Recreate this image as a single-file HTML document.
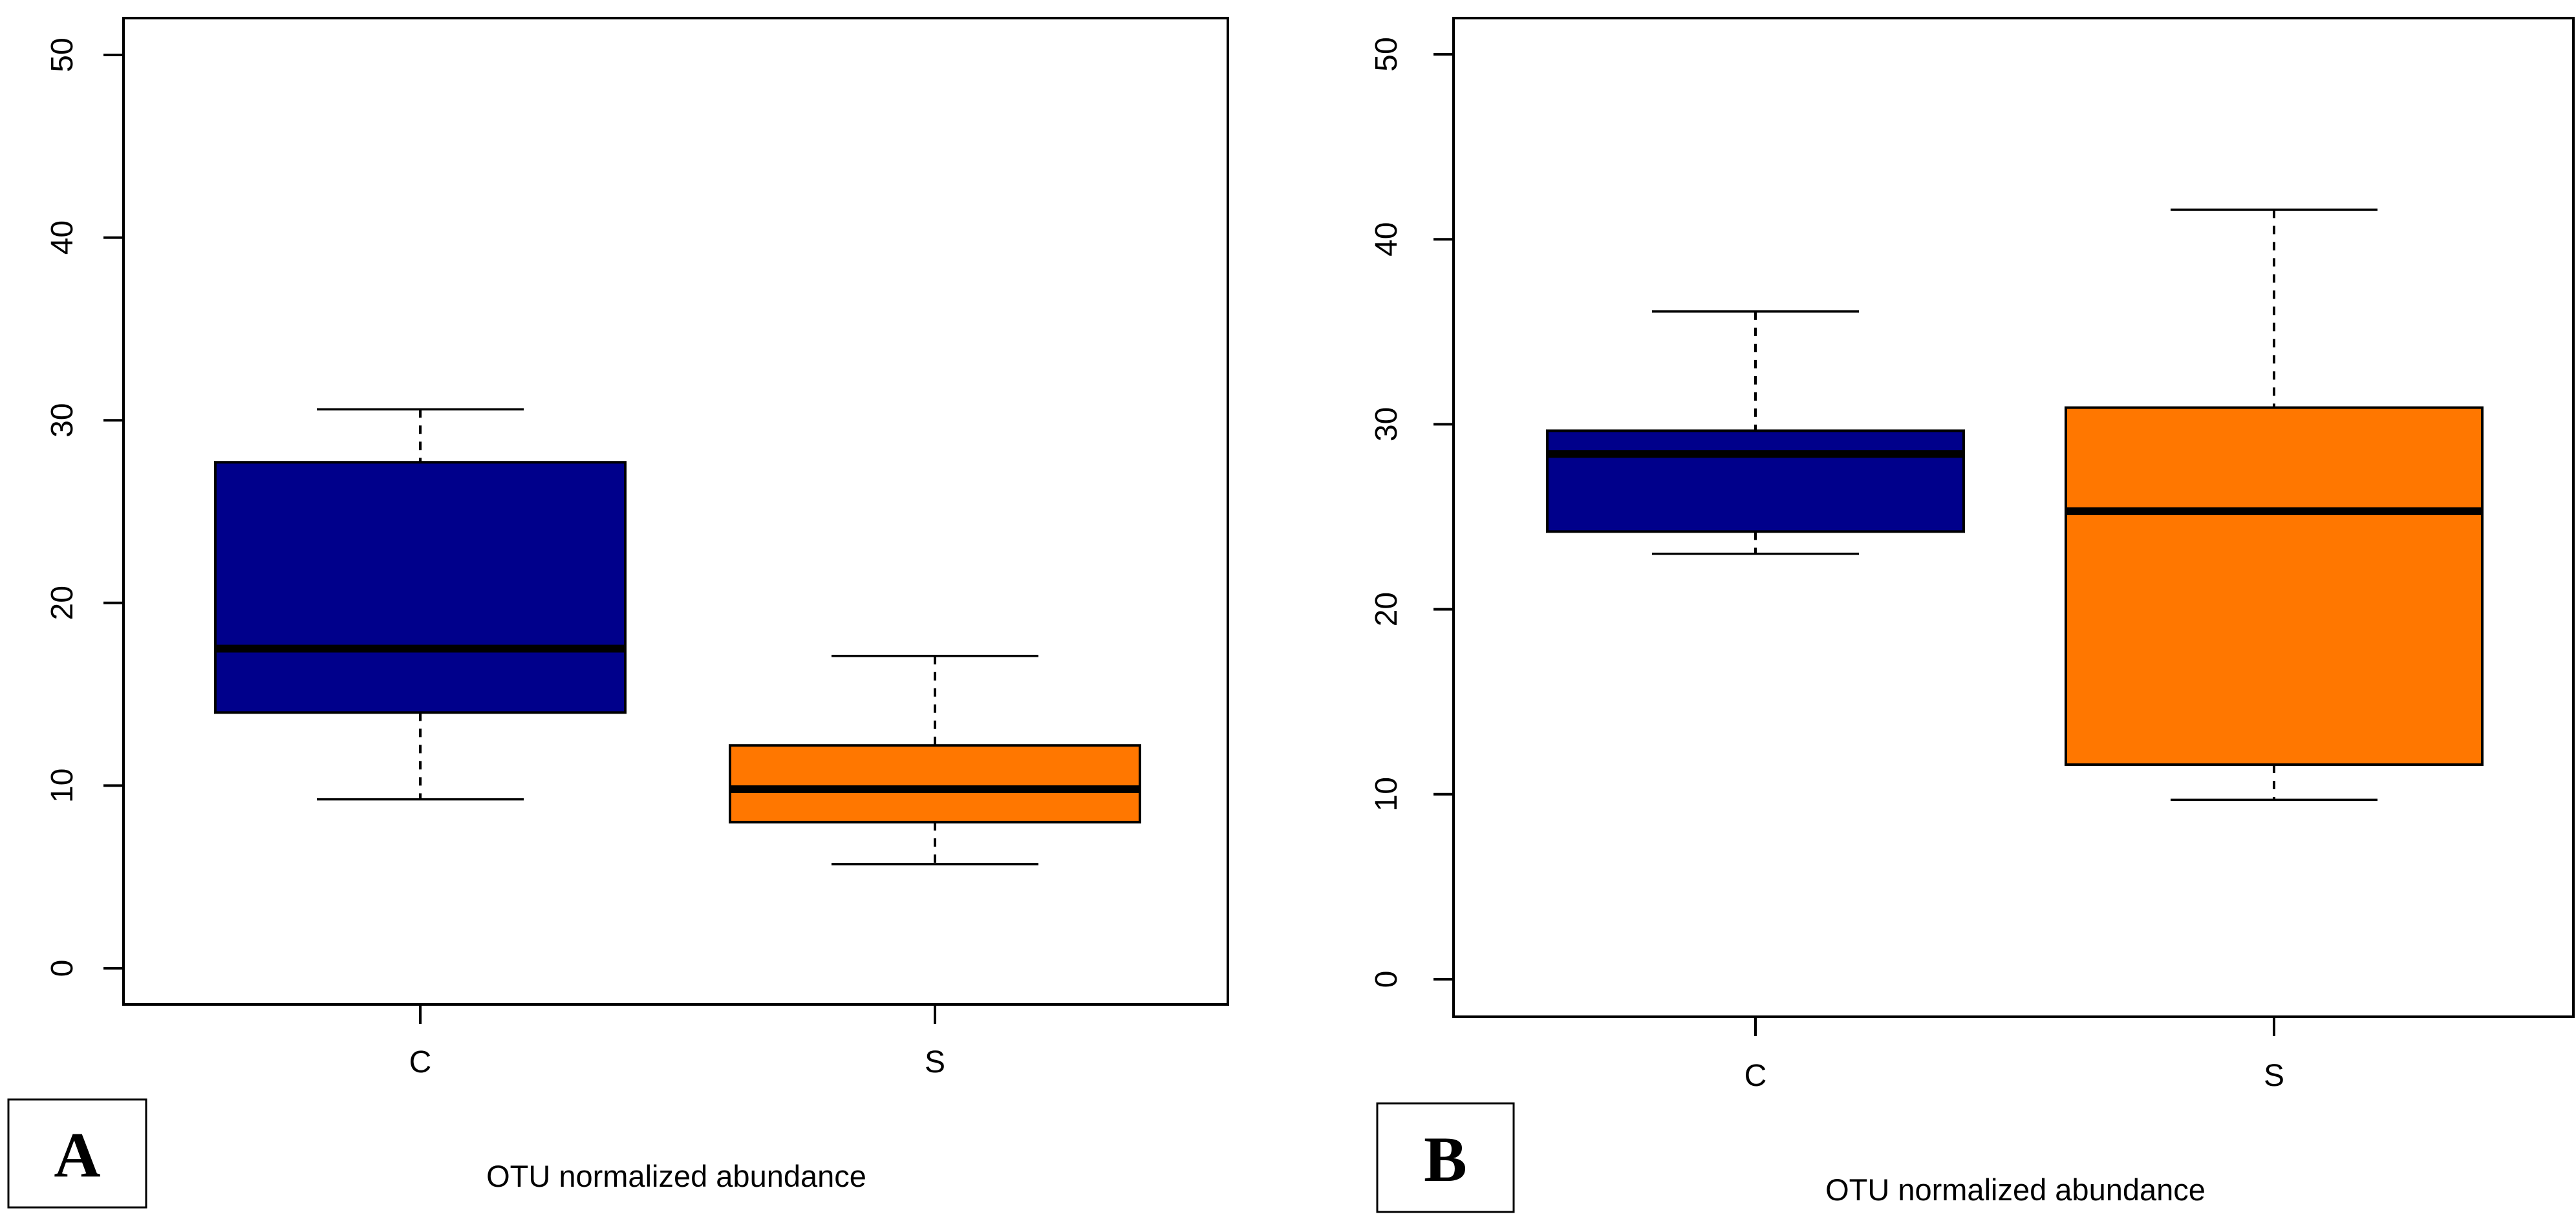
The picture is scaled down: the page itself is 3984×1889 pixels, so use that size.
<!DOCTYPE html>
<html><head><meta charset="utf-8"><style>
html,body{margin:0;padding:0;background:#fff;}
svg{display:block;}
text{font-family:"Liberation Sans",sans-serif;fill:#000;}
</style></head><body>
<svg id="fig" width="3984" height="1889" viewBox="0 0 3984 1889" xmlns="http://www.w3.org/2000/svg">
<rect width="3984" height="1889" fill="#fff"/>
</svg>
<script>
const categories = ["C", "S"];
const yTicks = [0, 10, 20, 30, 40, 50];
const panelA_whiskerLow = [9.25, 5.7];
const panelA_q1 = [14.0, 8.0];
const panelA_median = [17.5, 9.8];
const panelA_q3 = [27.7, 12.2];
const panelA_whiskerHigh = [30.6, 17.1];
const panelB_whiskerLow = [23.0, 9.7];
const panelB_q1 = [24.2, 11.6];
const panelB_median = [28.4, 25.3];
const panelB_q3 = [29.65, 30.9];
const panelB_whiskerHigh = [36.1, 41.6];
const fills = ["#00008B", "#FF7700"];

const NS = "http://www.w3.org/2000/svg";
const svg = document.getElementById("fig");
function el(tag, attrs, parent) {
  const e = document.createElementNS(NS, tag);
  for (const k in attrs) e.setAttribute(k, attrs[k]);
  (parent || svg).appendChild(e);
  return e;
}

function panel(cfg, lo, q1, med, q3, hi) {
  const g = el("g", {});
  
  
  const y = v => cfg.y0 + (cfg.y50 - cfg.y0) * v / 50;
  const x = i => cfg.cx[i];
  categories.forEach((c, i) => {
    const bg = el("g", {}, g);
    
    
    el("line", {x1:x(i), x2:x(i), y1:y(hi[i]), y2:y(q3[i]), stroke:"#000", "stroke-width":4, "stroke-dasharray":"13 12"}, bg);
    el("line", {x1:x(i), x2:x(i), y1:y(q1[i]), y2:y(lo[i]), stroke:"#000", "stroke-width":4, "stroke-dasharray":"13 12"}, bg);
    el("line", {x1:x(i)-cfg.cap, x2:x(i)+cfg.cap, y1:y(hi[i]), y2:y(hi[i]), stroke:"#000", "stroke-width":3.5}, bg);
    el("line", {x1:x(i)-cfg.cap, x2:x(i)+cfg.cap, y1:y(lo[i]), y2:y(lo[i]), stroke:"#000", "stroke-width":3.5}, bg);
    el("rect", {x:x(i)-cfg.hw, y:y(q3[i]), width:2*cfg.hw, height:y(q1[i])-y(q3[i]), fill:fills[i], stroke:"#000", "stroke-width":4}, bg);
    el("line", {x1:x(i)-cfg.hw, x2:x(i)+cfg.hw, y1:y(med[i]), y2:y(med[i]), stroke:"#000", "stroke-width":12}, bg);
    el("line", {x1:x(i), x2:x(i), y1:cfg.bottom, y2:cfg.bottom+30, stroke:"#000", "stroke-width":4}, g);
    const t = el("text", {x:x(i), y:cfg.xlabY, "font-size":48, "text-anchor":"middle"}, g);
    t.textContent = c;
    
    
  });
  const fr = el("rect", {x:cfg.left, y:cfg.top, width:cfg.right-cfg.left, height:cfg.bottom-cfg.top, fill:"none", stroke:"#000", "stroke-width":4}, g);
  
  
  yTicks.forEach(v => {
    el("line", {x1:cfg.left-31, x2:cfg.left, y1:y(v), y2:y(v), stroke:"#000", "stroke-width":4}, g);
    const t = el("text", {x:cfg.ylabX, y:y(v), "font-size":48, "text-anchor":"middle", transform:`rotate(-90 ${cfg.ylabX} ${y(v)})`}, g);
    t.textContent = v;
    
    
  });
  const tt = el("text", {x:cfg.titleX, y:cfg.titleY, "font-size":47, "text-anchor":"middle"}, g);
  tt.textContent = "OTU normalized abundance";
  
  
  el("rect", {x:cfg.lb[0], y:cfg.lb[1], width:cfg.lb[2]-cfg.lb[0], height:cfg.lb[3]-cfg.lb[1], fill:"#fff", stroke:"#000", "stroke-width":3}, g);
  const pl = el("text", {x:(cfg.lb[0]+cfg.lb[2])/2, y:(cfg.lb[1]+cfg.lb[3])/2+36, "font-size":100, "font-weight":"bold", "text-anchor":"middle", style:"font-family:'Liberation Serif',serif"}, g);
  pl.textContent = cfg.tag;
  
  
}

panel({name:"panel-a", tag:"A", left:191, right:1899, top:28, bottom:1554, y0:1498, y50:85,
  cx:[650,1446], hw:317, cap:160, ylabX:112, xlabY:1659, titleX:1046, titleY:1836, lb:[13,1701,226,1868]},
  panelA_whiskerLow, panelA_q1, panelA_median, panelA_q3, panelA_whiskerHigh);
panel({name:"panel-b", tag:"B", left:2248, right:3980, top:28, bottom:1573, y0:1515, y50:84,
  cx:[2715,3517], hw:322, cap:160, ylabX:2160, xlabY:1680, titleX:3117, titleY:1857, lb:[2130,1707,2341,1875]},
  panelB_whiskerLow, panelB_q1, panelB_median, panelB_q3, panelB_whiskerHigh);
</script>
</body></html>
